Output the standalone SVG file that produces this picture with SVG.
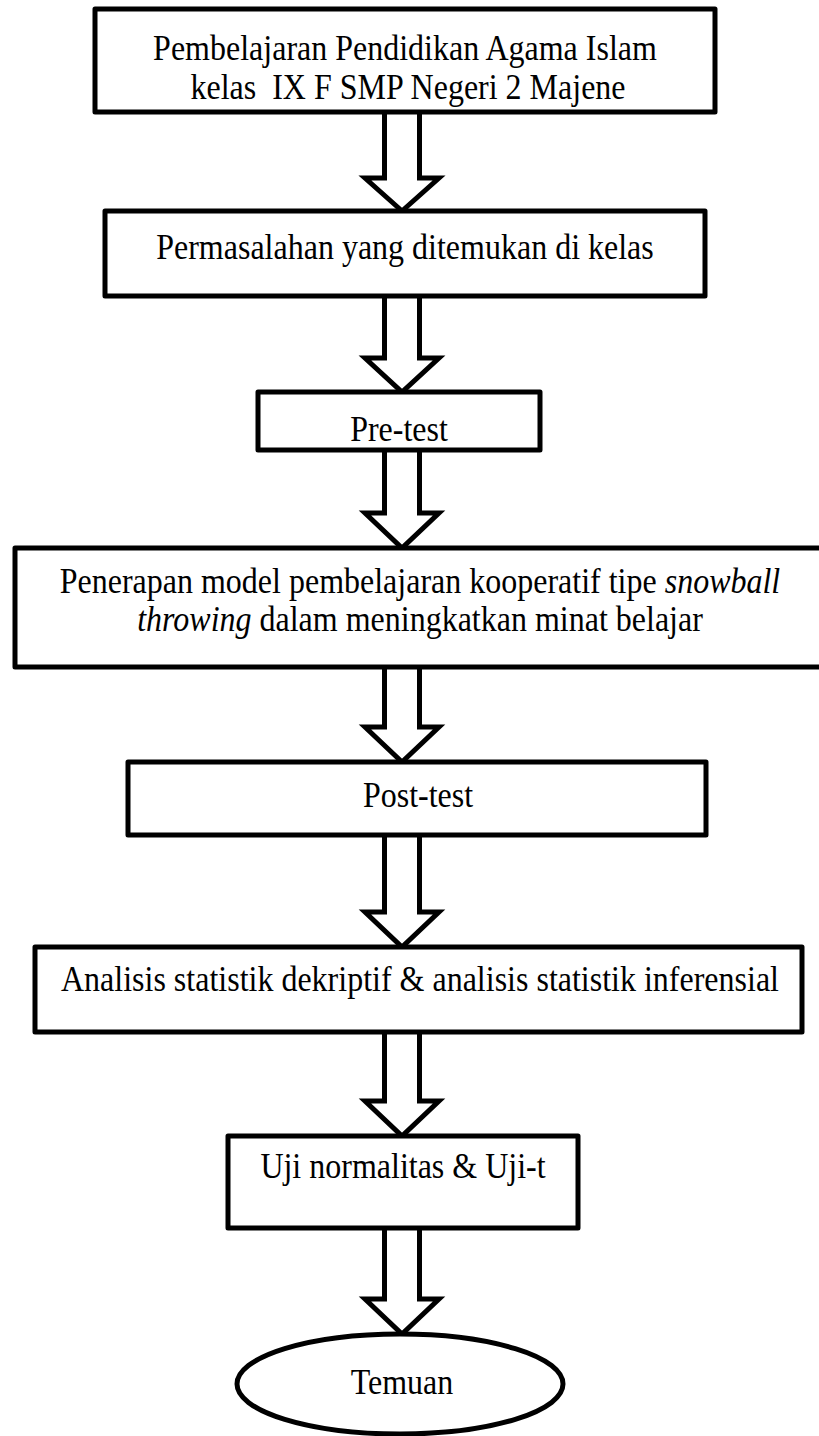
<svg xmlns="http://www.w3.org/2000/svg" width="819" height="1436" viewBox="0 0 819 1436">
<style>
.box{fill:#fff;stroke:#000;stroke-width:5;stroke-linejoin:round}
.arr{fill:#fff;stroke:#000;stroke-width:5;stroke-linejoin:miter}
.t{font-family:"Liberation Serif","Times New Roman",serif;font-size:32px;fill:#000;text-anchor:middle}
</style>
<rect width="819" height="1436" fill="#fff"/>
<g id="connectors">
<path class="arr" d="M384.5,112 V178 H365 L402,211 L439,178 H419.5 V112"/>
<path class="arr" d="M384.5,296 V358 H365 L402,392 L439,358 H419.5 V296"/>
<path class="arr" d="M384.5,450 V513 H365 L402,548 L439,513 H419.5 V450"/>
<path class="arr" d="M384.5,667 V727 H365 L402,762 L439,727 H419.5 V667"/>
<path class="arr" d="M384.5,835 V912 H365 L402,947 L439,912 H419.5 V835"/>
<path class="arr" d="M384.5,1032 V1101 H365 L402,1136 L439,1101 H419.5 V1032"/>
<path class="arr" d="M384.5,1228 V1299 H365 L402,1334 L439,1299 H419.5 V1228"/>
</g>
<g id="n1"><rect class="box" x="95" y="9" width="620" height="103"/>
<text class="t" transform="translate(405,60) scale(1,1.12)">Pembelajaran Pendidikan Agama Islam</text>
<text class="t" transform="translate(408,99) scale(1,1.12)" xml:space="preserve">kelas  IX F SMP Negeri 2 Majene</text></g>
<g id="n2"><rect class="box" x="105" y="211" width="600" height="85"/>
<text class="t" transform="translate(405,259) scale(1,1.12)">Permasalahan yang ditemukan di kelas</text></g>
<g id="n3"><rect class="box" x="258" y="392" width="282" height="58"/>
<text class="t" transform="translate(399,441) scale(1,1.12)">Pre-test</text></g>
<g id="n4"><rect class="box" x="15" y="548" width="812" height="119"/>
<text class="t" transform="translate(420,593) scale(1,1.12)">Penerapan model pembelajaran kooperatif tipe <tspan font-style="italic">snowball</tspan></text>
<text class="t" transform="translate(420,631) scale(1,1.12)"><tspan font-style="italic">throwing</tspan> dalam meningkatkan minat belajar</text></g>
<g id="n5"><rect class="box" x="128" y="762" width="578" height="73"/>
<text class="t" transform="translate(418,807) scale(1,1.12)">Post-test</text></g>
<g id="n6"><rect class="box" x="35" y="947" width="767" height="85"/>
<text class="t" transform="translate(420,991) scale(1,1.12)">Analisis statistik dekriptif &amp; analisis statistik inferensial</text></g>
<g id="n7"><rect class="box" x="228" y="1136" width="350" height="92"/>
<text class="t" transform="translate(403,1178) scale(1,1.12)">Uji normalitas &amp; Uji-t</text></g>
<g id="n8"><ellipse class="box" cx="400" cy="1384" rx="163" ry="50"/>
<text class="t" transform="translate(402,1394) scale(1,1.12)">Temuan</text></g>
</svg>
